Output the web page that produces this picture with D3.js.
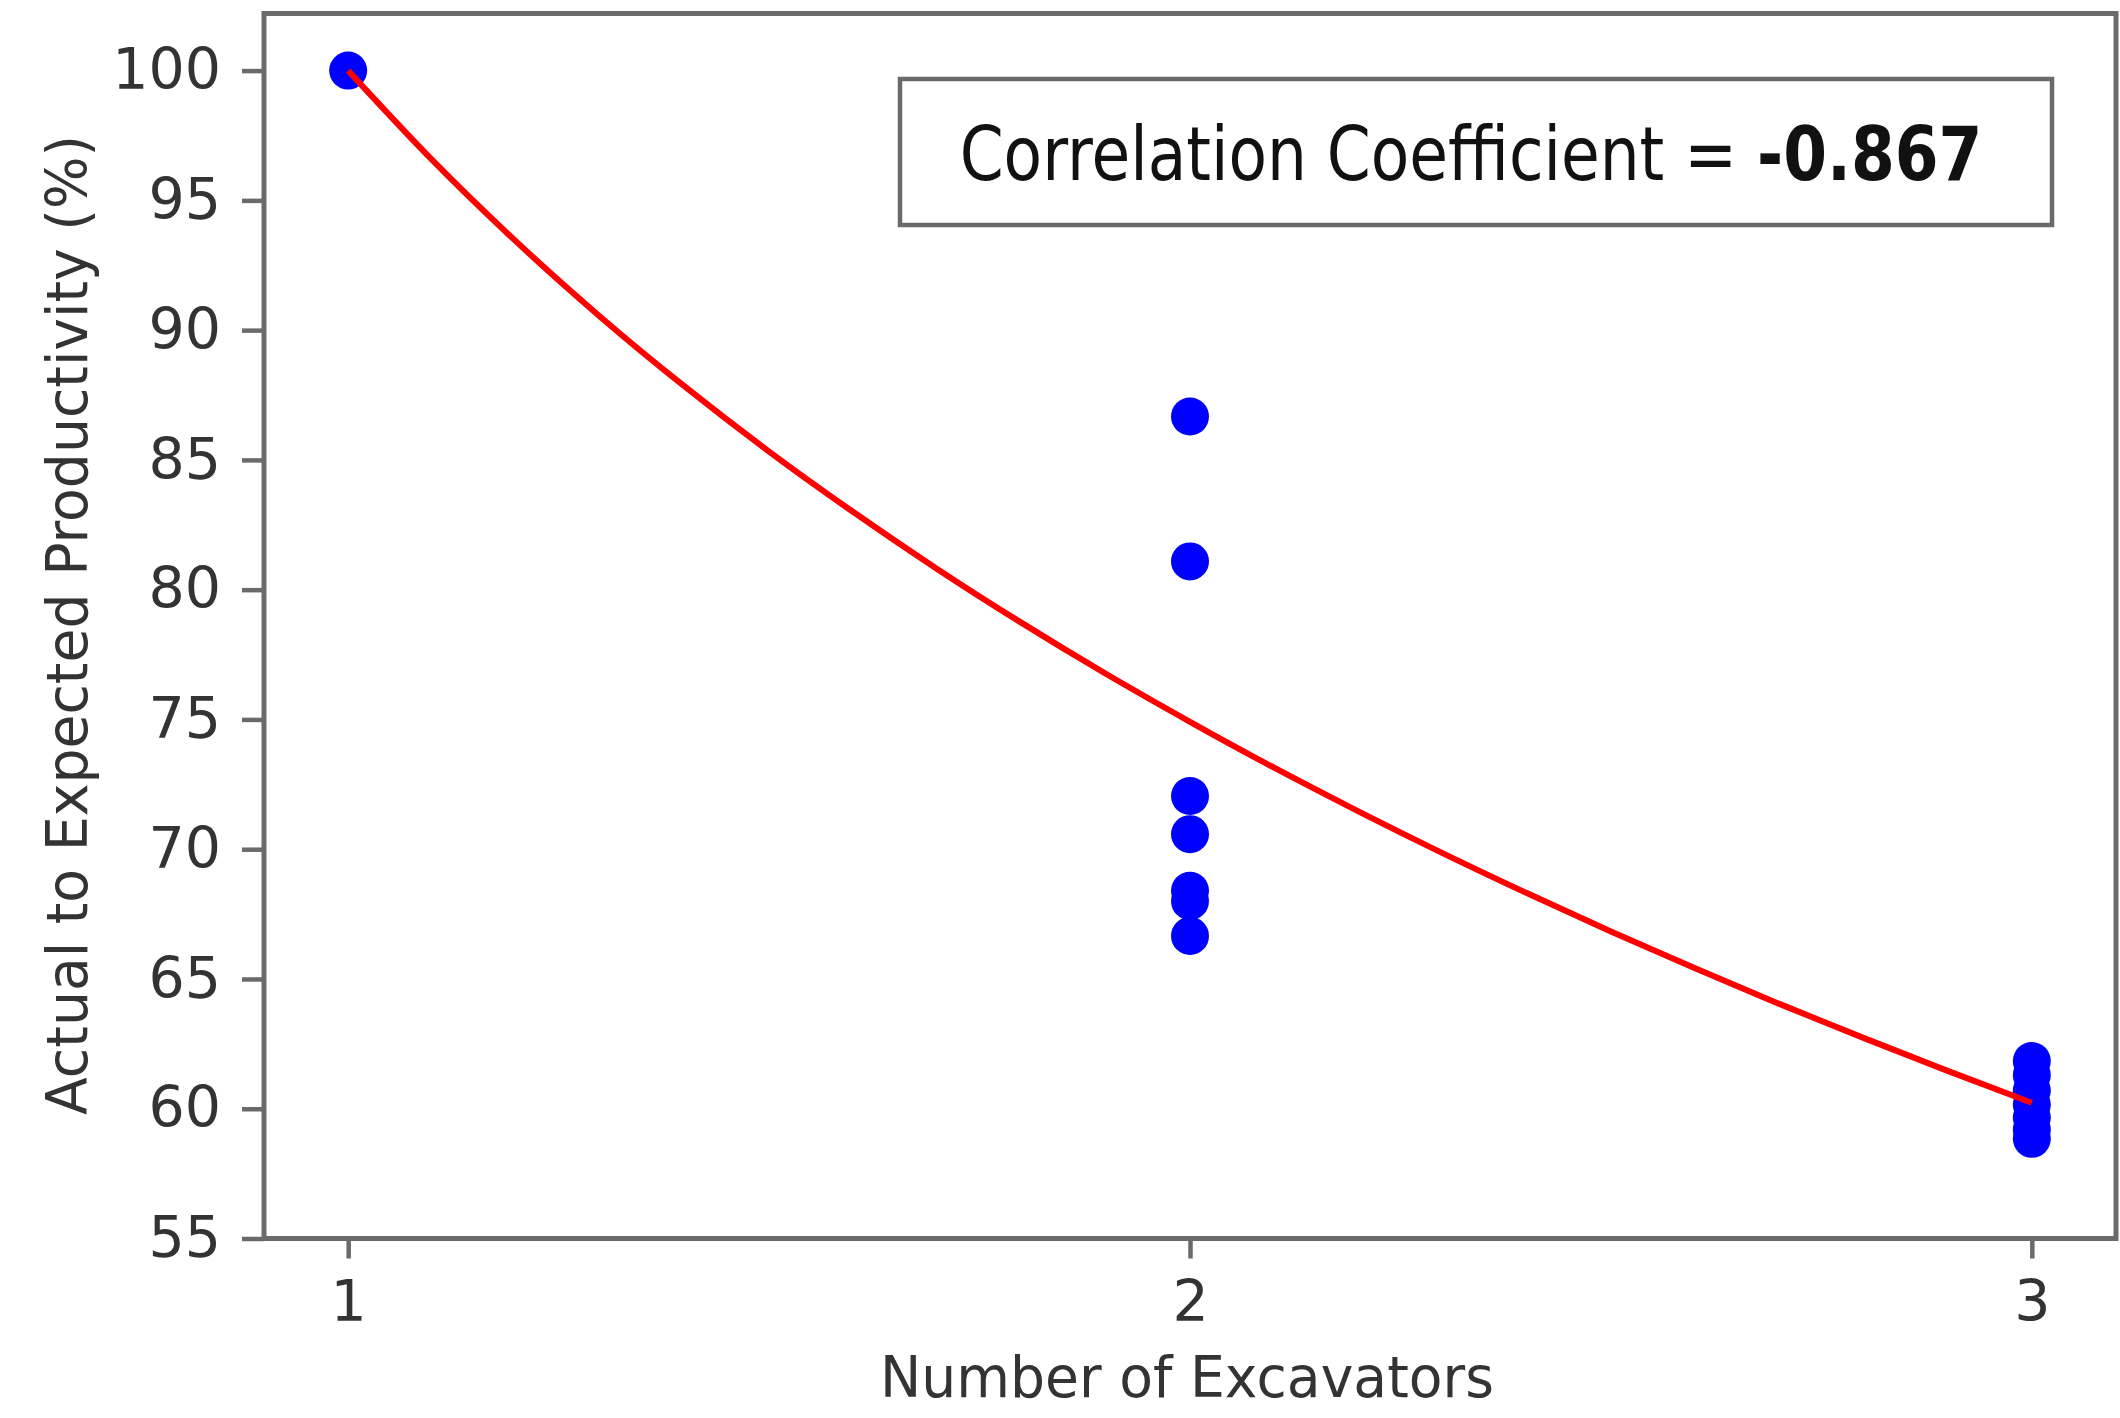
<!DOCTYPE html>
<html>
<head>
<meta charset="utf-8">
<script src="https://cdn.jsdelivr.net/npm/d3@7"></script>
<style>
  html, body { margin: 0; padding: 0; background: #fff; }
  svg { display: block; }
  text { font-family: "DejaVu Sans", sans-serif; }
</style>
</head>
<body>
<svg id="chart" width="2120" height="1418"></svg>
<script>
// ---- data ----
const excavators = [1, 2, 2, 2, 2, 2, 2, 2, 3, 3, 3, 3, 3, 3, 3];
const productivity = [100, 86.67, 81.09, 72.05, 70.58, 68.4, 68.0, 66.66,
                      61.84, 61.3, 60.7, 60.15, 59.65, 59.2, 58.84];
const fitX = [1.0, 1.1, 1.2, 1.3, 1.4, 1.5, 1.6, 1.7, 1.8, 1.9, 2.0,
              2.1, 2.2, 2.3, 2.4, 2.5, 2.6, 2.7, 2.8, 2.9, 3.0];
const fitY = [100, 96.55, 93.4, 90.5, 87.82, 85.32, 82.99, 80.79, 78.72, 76.76, 74.91,
              73.14, 71.46, 69.85, 68.31, 66.83, 65.41, 64.04, 62.73, 61.46, 60.23];
const xTicks = [1, 2, 3];
const yTicks = [55, 60, 65, 70, 75, 80, 85, 90, 95, 100];
const xLabel = "Number of Excavators";
const yLabel = "Actual to Expected Productivity (%)";
const corrLabel = "Correlation Coefficient = ";
const corrValue = "-0.867";

(function () {
// ---- layout ----
const svg = d3.select("#chart");
const pLeft = 264, pRight = 2116, pTop = 13.5, pBottom = 1238.5;
const x = d3.scaleLinear().domain([0.9, 3.1]).range([pLeft, pRight]);
const y = d3.scaleLinear().domain([55, 102.2]).range([pBottom, pTop]);
const axisColor = "#6a6a6a";
const textColor = "#333333";

svg.append("rect").attr("width", 2120).attr("height", 1418).attr("fill", "#fff");

// axes ticks
const gy = svg.append("g").attr("transform", `translate(${pLeft},0)`)
  .call(d3.axisLeft(y).tickValues(yTicks).tickSize(22).tickPadding(21).tickFormat(d3.format("d")));
const gx = svg.append("g").attr("transform", `translate(0,${pBottom})`)
  .call(d3.axisBottom(x).tickValues(xTicks).tickSize(20).tickPadding(22).tickFormat(d3.format("d")));
[gx, gy].forEach(g => {
  g.select(".domain").remove();
  g.selectAll(".tick line").attr("stroke", axisColor).attr("stroke-width", 4.5);
  g.selectAll(".tick text").attr("fill", textColor).attr("font-size", 57)
    .attr("font-family", "DejaVu Sans");
});

// points
svg.append("g").selectAll("circle")
  .data(excavators.map((e, i) => [e, productivity[i]]))
  .join("circle")
  .attr("cx", d => x(d[0]))
  .attr("cy", d => y(d[1]))
  .attr("r", 19)
  .attr("fill", "#0000ff");

// fitted curve
const line = d3.line().x(d => x(d[0])).y(d => y(d[1])).curve(d3.curveMonotoneX);
svg.append("path")
  .datum(fitX.map((v, i) => [v, fitY[i]]))
  .attr("d", line)
  .attr("fill", "none")
  .attr("stroke", "#ff0000")
  .attr("stroke-width", 6);

// spines
svg.append("rect")
  .attr("x", pLeft).attr("y", pTop)
  .attr("width", pRight - pLeft).attr("height", pBottom - pTop)
  .attr("fill", "none").attr("stroke", axisColor).attr("stroke-width", 5);

// axis labels
svg.append("text")
  .attr("x", (pLeft + pRight) / 2 - 3).attr("y", 1397)
  .attr("text-anchor", "middle").attr("font-size", 57).attr("fill", textColor)
  .attr("textLength", 614).attr("lengthAdjust", "spacingAndGlyphs")
  .text(xLabel);

svg.append("text")
  .attr("transform", `translate(87,${(pTop + pBottom) / 2 - 1}) rotate(-90)`)
  .attr("text-anchor", "middle").attr("font-size", 57).attr("fill", textColor)
  .attr("textLength", 980).attr("lengthAdjust", "spacingAndGlyphs")
  .text(yLabel);

// correlation box
const bx0 = 900, by0 = 79, bx1 = 2052, by1 = 225;
svg.append("rect")
  .attr("x", bx0).attr("y", by0).attr("width", bx1 - bx0).attr("height", by1 - by0)
  .attr("fill", "#fff").attr("stroke", "#6a6a6a").attr("stroke-width", 4.5);
const tg = svg.append("g");
const t = tg.append("text").attr("font-size", 74).attr("fill", "#111")
  .attr("text-anchor", "middle").attr("x", 0).attr("y", 0);
t.append("tspan").text(corrLabel);
t.append("tspan").attr("font-weight", "bold").text(corrValue);
const w = t.node().getComputedTextLength();
const sx = 1023 / w;
tg.attr("transform", `translate(1471,180) scale(${sx},1)`);
})();
</script>
</body>
</html>
